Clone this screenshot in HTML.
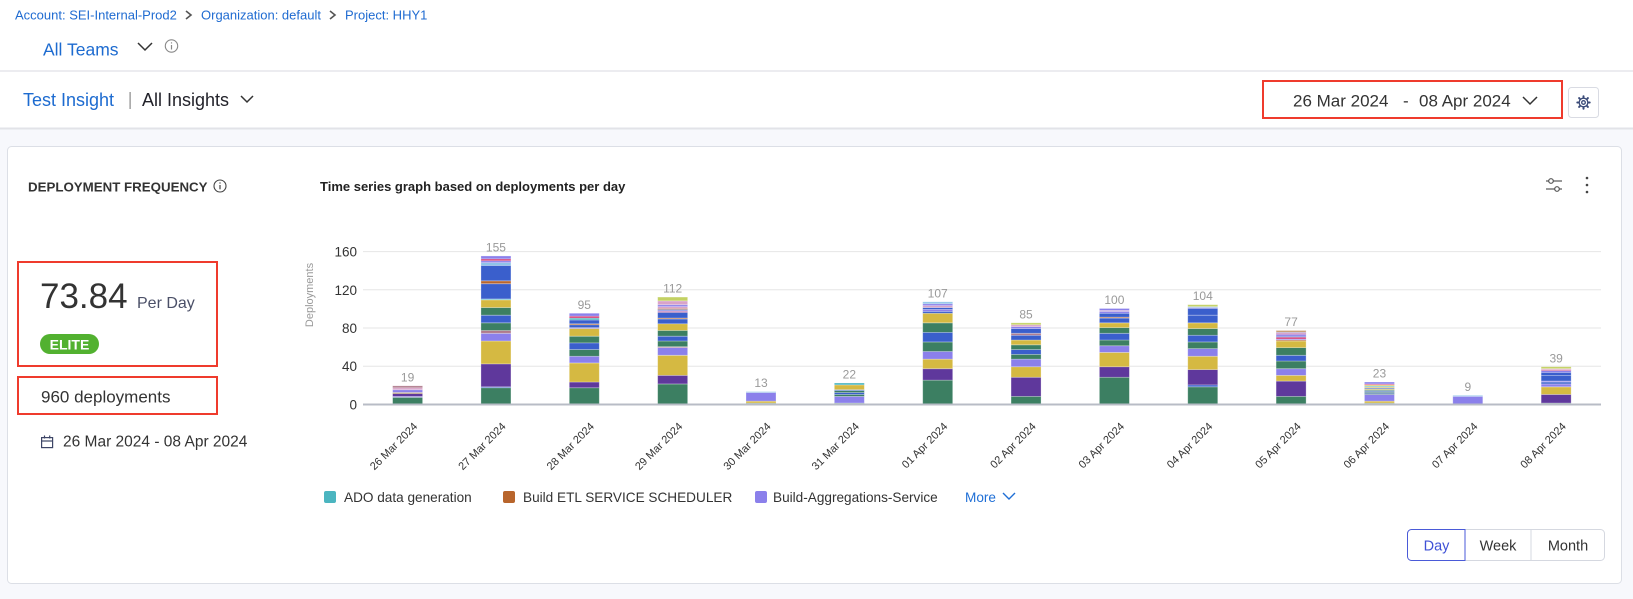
<!DOCTYPE html>
<html>
<head>
<meta charset="utf-8">
<style>
html,body{margin:0;padding:0;background:#fff;}
body{width:1633px;height:599px;overflow:hidden;font-family:"Liberation Sans",Arial,sans-serif;}
svg{display:block;}
.G{fill:#3c7f62}.P{fill:#5f389c}.Y{fill:#d5b942}.L{fill:#8b80eb}.B{fill:#3a5fcc}.O{fill:#b8652c}
.R{fill:#d43d77}.T{fill:#4bb5c0}.K{fill:#d9a3c9}.M{fill:#c3d163}.S{fill:#b07a8c}.W{fill:#8fc4e8}.N{fill:#c9a07a}
.bars rect{stroke:#ffffff;stroke-opacity:.35;stroke-width:.8;vector-effect:non-scaling-stroke;}
</style>
</head>
<body>
<svg width="1633" height="599" viewBox="0 0 1633 599" xmlns="http://www.w3.org/2000/svg" font-family="Liberation Sans, Arial, sans-serif">
  <!-- backgrounds -->
  <rect x="0" y="0" width="1633" height="599" fill="#f7f8fc"/>
  <rect x="0" y="0" width="1633" height="128" fill="#ffffff"/>
  <rect x="0" y="70.5" width="1633" height="1" fill="#d8d9e0"/>
  <rect x="0" y="127.5" width="1633" height="2" fill="#e2e3e8"/>

  <!-- breadcrumb -->
  <g font-size="13" fill="#1f6bd1">
    <text x="15" y="19.6">Account: SEI-Internal-Prod2</text>
    <text x="201" y="19.6">Organization: default</text>
    <text x="345" y="19.6">Project: HHY1</text>
  </g>
  <polyline points="186,11 191,15 186,19" fill="none" stroke="#555" stroke-width="1.6"/>
  <polyline points="330,11 335,15 330,19" fill="none" stroke="#555" stroke-width="1.6"/>

  <!-- All Teams -->
  <text x="43" y="55.3" font-size="17.5" fill="#1d6bd0">All Teams</text>
  <polyline points="138,43 145,50 152,43" fill="none" stroke="#333" stroke-width="1.5"/>
  <circle cx="171.5" cy="46" r="6.2" fill="none" stroke="#888" stroke-width="1.1"/>
  <rect x="170.9" y="45" width="1.2" height="4.5" fill="#888"/>
  <rect x="170.9" y="42.3" width="1.2" height="1.2" fill="#888"/>

  <!-- Test insight row -->
  <text x="23" y="106" font-size="18" fill="#1d6bd0">Test Insight</text>
  <rect x="129.5" y="92" width="1.2" height="17" fill="#888"/>
  <text x="142" y="106" font-size="18" fill="#22222a">All Insights</text>
  <polyline points="241,96 247,102 253,96" fill="none" stroke="#333" stroke-width="1.5"/>

  <!-- date range red box -->
  <rect x="1263" y="81" width="299" height="37" fill="#fff" stroke="#ef3b2d" stroke-width="2"/>
  <text x="1293" y="106.5" font-size="17" fill="#333">26 Mar 2024</text>
  <text x="1403" y="106.5" font-size="17" fill="#333">-</text>
  <text x="1419" y="106.5" font-size="17" fill="#333">08 Apr 2024</text>
  <polyline points="1523,97 1530,104 1537,97" fill="none" stroke="#333" stroke-width="1.5"/>

  <!-- gear button -->
  <rect x="1568.5" y="87.5" width="30" height="30" rx="3" fill="#fff" stroke="#d9dbe3"/>
  <g transform="translate(1583.5,102.5)" stroke="#3a4a78" fill="none" stroke-width="1.3">
    <circle r="4.3"/>
    <circle r="1.8"/>
    <g stroke-width="2" stroke-linecap="round">
      <line x1="0" y1="-5" x2="0" y2="-6.2"/>
      <line x1="0" y1="5" x2="0" y2="6.2"/>
      <line x1="-5" y1="0" x2="-6.2" y2="0"/>
      <line x1="5" y1="0" x2="6.2" y2="0"/>
      <line x1="3.6" y1="3.6" x2="4.4" y2="4.4"/>
      <line x1="-3.6" y1="3.6" x2="-4.4" y2="4.4"/>
      <line x1="3.6" y1="-3.6" x2="4.4" y2="-4.4"/>
      <line x1="-3.6" y1="-3.6" x2="-4.4" y2="-4.4"/>
    </g>
  </g>

  <!-- card -->
  <rect x="7.5" y="146.5" width="1614" height="437" rx="4" fill="#ffffff" stroke="#dcdfe6"/>

  <!-- left panel -->
  <text x="28" y="191.5" font-size="13.3" font-weight="bold" fill="#333">DEPLOYMENT FREQUENCY</text>
  <circle cx="220" cy="186" r="6" fill="none" stroke="#444" stroke-width="1.1"/>
  <rect x="219.4" y="185" width="1.2" height="4.3" fill="#444"/>
  <rect x="219.4" y="182.4" width="1.2" height="1.2" fill="#444"/>

  <rect x="18" y="262" width="199" height="104" fill="none" stroke="#ef3b2d" stroke-width="2"/>
  <text x="40" y="308" font-size="35" fill="#333">73.84</text>
  <text x="137" y="308" font-size="16" fill="#4b5068">Per Day</text>
  <rect x="40" y="334" width="59" height="20" rx="10" fill="#52b130"/>
  <text x="69.5" y="349.3" font-size="14" font-weight="bold" fill="#fff" text-anchor="middle">ELITE</text>

  <rect x="18" y="377" width="199" height="37" fill="none" stroke="#ef3b2d" stroke-width="2"/>
  <text x="41" y="402.5" font-size="17" fill="#333">960 deployments</text>

  <g fill="none" stroke="#3d4566" stroke-width="1.2">
    <rect x="41.6" y="437.6" width="11" height="10"/>
    <line x1="41.6" y1="441" x2="52.6" y2="441"/>
    <line x1="44.5" y1="435.5" x2="44.5" y2="438.5"/>
    <line x1="49.7" y1="435.5" x2="49.7" y2="438.5"/>
  </g>
  <text x="63" y="446.5" font-size="15.5" fill="#333">26 Mar 2024 - 08 Apr 2024</text>

  <!-- chart title -->
  <text x="320" y="191" font-size="13" font-weight="bold" fill="#222">Time series graph based on deployments per day</text>
  <!-- slider icon -->
  <g stroke="#555" stroke-width="1.2" fill="#fff">
    <line x1="1546" y1="181" x2="1562" y2="181"/>
    <line x1="1546" y1="189" x2="1562" y2="189"/>
    <circle cx="1551" cy="181" r="2.3"/>
    <circle cx="1557" cy="189" r="2.3"/>
  </g>
  <g fill="#444">
    <circle cx="1587" cy="178" r="1.3"/>
    <circle cx="1587" cy="185" r="1.3"/>
    <circle cx="1587" cy="192" r="1.3"/>
  </g>

  <!-- gridlines -->
  <g stroke="#e6e6e6" stroke-width="1">
    <line x1="363" y1="251.6" x2="1601" y2="251.6"/>
    <line x1="363" y1="289.8" x2="1601" y2="289.8"/>
    <line x1="363" y1="328" x2="1601" y2="328"/>
    <line x1="363" y1="366.2" x2="1601" y2="366.2"/>
  </g>

  <!-- y ticks -->
  <g font-size="13.5" fill="#333" text-anchor="end">
    <text x="357" y="256.6">160</text>
    <text x="357" y="294.8">120</text>
    <text x="357" y="333">80</text>
    <text x="357" y="371.2">40</text>
    <text x="357" y="409.4">0</text>
  </g>
  <text transform="translate(313,295) rotate(-90)" font-size="11" fill="#999" text-anchor="middle">Deployments</text>

  <!-- bars -->
  <g class="bars">
    <g transform="translate(392.6,404) scale(1,-0.955)">
      <rect class="G" width="30" y="0" height="7"/><rect class="L" width="30" y="7" height="1"/><rect class="P" width="30" y="8" height="3"/><rect class="Y" width="30" y="11" height="1"/><rect class="L" width="30" y="12" height="3"/><rect class="K" width="30" y="15" height="2"/><rect class="S" width="30" y="17" height="2"/>
    </g>
    <g transform="translate(480.95,404) scale(1,-0.955)">
      <rect class="G" width="30" y="0" height="17"/><rect class="B" width="30" y="17" height="1"/><rect class="P" width="30" y="18" height="24"/><rect class="Y" width="30" y="42" height="24"/><rect class="L" width="30" y="66" height="8"/><rect class="S" width="30" y="74" height="3"/><rect class="G" width="30" y="77" height="8"/><rect class="B" width="30" y="85" height="8"/><rect class="G" width="30" y="93" height="8"/><rect class="Y" width="30" y="101" height="8"/><rect class="T" width="30" y="109" height="1"/><rect class="B" width="30" y="110" height="16"/><rect class="O" width="30" y="126" height="3"/><rect class="B" width="30" y="129" height="16"/><rect class="W" width="30" y="145" height="3"/><rect class="L" width="30" y="148" height="2"/><rect class="R" width="30" y="150" height="2"/><rect class="L" width="30" y="152" height="3"/>
    </g>
    <g transform="translate(569.3,404) scale(1,-0.955)">
      <rect class="G" width="30" y="0" height="17"/><rect class="P" width="30" y="17" height="6"/><rect class="Y" width="30" y="23" height="20"/><rect class="L" width="30" y="43" height="7"/><rect class="G" width="30" y="50" height="7"/><rect class="B" width="30" y="57" height="7"/><rect class="G" width="30" y="64" height="7"/><rect class="Y" width="30" y="71" height="8"/><rect class="L" width="30" y="79" height="1"/><rect class="B" width="30" y="80" height="3"/><rect class="O" width="30" y="83" height="1"/><rect class="B" width="30" y="84" height="4"/><rect class="T" width="30" y="88" height="2"/><rect class="R" width="30" y="90" height="2"/><rect class="L" width="30" y="92" height="3"/>
    </g>
    <g transform="translate(657.65,404) scale(1,-0.955)">
      <rect class="G" width="30" y="0" height="21"/><rect class="P" width="30" y="21" height="9"/><rect class="Y" width="30" y="30" height="21"/><rect class="L" width="30" y="51" height="8"/><rect class="S" width="30" y="59" height="1"/><rect class="G" width="30" y="60" height="6"/><rect class="B" width="30" y="66" height="5"/><rect class="G" width="30" y="71" height="6"/><rect class="Y" width="30" y="77" height="7"/><rect class="B" width="30" y="84" height="5"/><rect class="O" width="30" y="89" height="1"/><rect class="B" width="30" y="90" height="6"/><rect class="R" width="30" y="96" height="1"/><rect class="L" width="30" y="97" height="1"/><rect class="B" width="30" y="98" height="1"/><rect class="O" width="30" y="99" height="1"/><rect class="K" width="30" y="100" height="2"/><rect class="L" width="30" y="102" height="2"/><rect class="K" width="30" y="104" height="4"/><rect class="M" width="30" y="108" height="4"/>
    </g>
    <g transform="translate(746,404) scale(1,-0.955)">
      <rect class="G" width="30" y="0" height="1"/><rect class="Y" width="30" y="1" height="2"/><rect class="L" width="30" y="3" height="9"/><rect class="W" width="30" y="12" height="1"/>
    </g>
    <g transform="translate(834.35,404) scale(1,-0.955)">
      <rect class="G" width="30" y="0" height="1"/><rect class="L" width="30" y="1" height="7"/><rect class="G" width="30" y="8" height="2"/><rect class="B" width="30" y="10" height="2"/><rect class="G" width="30" y="12" height="2"/><rect class="B" width="30" y="14" height="1"/><rect class="Y" width="30" y="15" height="5"/><rect class="T" width="30" y="20" height="2"/>
    </g>
    <g transform="translate(922.7,404) scale(1,-0.955)">
      <rect class="G" width="30" y="0" height="25"/><rect class="P" width="30" y="25" height="12"/><rect class="Y" width="30" y="37" height="10"/><rect class="L" width="30" y="47" height="8"/><rect class="G" width="30" y="55" height="10"/><rect class="B" width="30" y="65" height="10"/><rect class="G" width="30" y="75" height="10"/><rect class="Y" width="30" y="85" height="10"/><rect class="B" width="30" y="95" height="2"/><rect class="L" width="30" y="97" height="2"/><rect class="B" width="30" y="99" height="2"/><rect class="K" width="30" y="101" height="2"/><rect class="L" width="30" y="103" height="2"/><rect class="W" width="30" y="105" height="2"/>
    </g>
    <g transform="translate(1011.05,404) scale(1,-0.955)">
      <rect class="G" width="30" y="0" height="8"/><rect class="P" width="30" y="8" height="20"/><rect class="Y" width="30" y="28" height="11"/><rect class="L" width="30" y="39" height="8"/><rect class="G" width="30" y="47" height="5"/><rect class="B" width="30" y="52" height="5"/><rect class="G" width="30" y="57" height="5"/><rect class="Y" width="30" y="62" height="5"/><rect class="B" width="30" y="67" height="5"/><rect class="S" width="30" y="72" height="2"/><rect class="B" width="30" y="74" height="5"/><rect class="L" width="30" y="79" height="2"/><rect class="K" width="30" y="81" height="2"/><rect class="M" width="30" y="83" height="2"/>
    </g>
    <g transform="translate(1099.4,404) scale(1,-0.955)">
      <rect class="G" width="30" y="0" height="28"/><rect class="P" width="30" y="28" height="11"/><rect class="Y" width="30" y="39" height="15"/><rect class="L" width="30" y="54" height="7"/><rect class="G" width="30" y="61" height="6"/><rect class="B" width="30" y="67" height="7"/><rect class="G" width="30" y="74" height="6"/><rect class="Y" width="30" y="80" height="5"/><rect class="B" width="30" y="85" height="5"/><rect class="O" width="30" y="90" height="1"/><rect class="B" width="30" y="91" height="4"/><rect class="L" width="30" y="95" height="2"/><rect class="K" width="30" y="97" height="1"/><rect class="L" width="30" y="98" height="2"/>
    </g>
    <g transform="translate(1187.75,404) scale(1,-0.955)">
      <rect class="G" width="30" y="0" height="18"/><rect class="B" width="30" y="18" height="2"/><rect class="P" width="30" y="20" height="16"/><rect class="Y" width="30" y="36" height="14"/><rect class="L" width="30" y="50" height="8"/><rect class="G" width="30" y="58" height="7"/><rect class="B" width="30" y="65" height="7"/><rect class="G" width="30" y="72" height="7"/><rect class="Y" width="30" y="79" height="6"/><rect class="B" width="30" y="85" height="8"/><rect class="B" width="30" y="93" height="7"/><rect class="L" width="30" y="100" height="1"/><rect class="W" width="30" y="101" height="1"/><rect class="M" width="30" y="102" height="2"/>
    </g>
    <g transform="translate(1276.1,404) scale(1,-0.955)">
      <rect class="G" width="30" y="0" height="8"/><rect class="P" width="30" y="8" height="16"/><rect class="Y" width="30" y="24" height="6"/><rect class="L" width="30" y="30" height="7"/><rect class="G" width="30" y="37" height="8"/><rect class="B" width="30" y="45" height="6"/><rect class="G" width="30" y="51" height="8"/><rect class="Y" width="30" y="59" height="7"/><rect class="O" width="30" y="66" height="1"/><rect class="L" width="30" y="67" height="1"/><rect class="R" width="30" y="68" height="2"/><rect class="B" width="30" y="70" height="1"/><rect class="L" width="30" y="71" height="2"/><rect class="R" width="30" y="73" height="1"/><rect class="L" width="30" y="74" height="1"/><rect class="N" width="30" y="75" height="2"/>
    </g>
    <g transform="translate(1364.45,404) scale(1,-0.955)">
      <rect class="G" width="30" y="0" height="1"/><rect class="Y" width="30" y="1" height="2"/><rect class="L" width="30" y="3" height="7"/><rect class="G" width="30" y="10" height="1"/><rect class="B" width="30" y="11" height="1"/><rect class="G" width="30" y="12" height="1"/><rect class="B" width="30" y="13" height="1"/><rect class="G" width="30" y="14" height="1"/><rect class="Y" width="30" y="15" height="1"/><rect class="B" width="30" y="16" height="1"/><rect class="Y" width="30" y="17" height="1"/><rect class="T" width="30" y="18" height="1"/><rect class="Y" width="30" y="19" height="1"/><rect class="R" width="30" y="20" height="1"/><rect class="L" width="30" y="21" height="2"/>
    </g>
    <g transform="translate(1452.8,404) scale(1,-0.955)">
      <rect class="L" width="30" y="0" height="8"/><rect class="W" width="30" y="8" height="1"/>
    </g>
    <g transform="translate(1541.15,404) scale(1,-0.955)">
      <rect class="G" width="30" y="0" height="1"/><rect class="P" width="30" y="1" height="9"/><rect class="Y" width="30" y="10" height="8"/><rect class="L" width="30" y="18" height="3"/><rect class="B" width="30" y="21" height="2"/><rect class="L" width="30" y="23" height="1"/><rect class="B" width="30" y="24" height="6"/><rect class="B" width="30" y="30" height="3"/><rect class="L" width="30" y="33" height="2"/><rect class="R" width="30" y="35" height="1"/><rect class="K" width="30" y="36" height="1"/><rect class="M" width="30" y="37" height="2"/>
    </g>
  </g>

  <!-- baseline -->
  <line x1="363" y1="404.5" x2="1601" y2="404.5" stroke="#b8bcc6" stroke-width="2"/>

  <!-- value labels -->
  <g font-size="12" fill="#999" text-anchor="middle">
    <text x="407.6" y="381.4">19</text>
    <text x="495.95" y="251.5">155</text>
    <text x="584.3" y="308.8">95</text>
    <text x="672.65" y="292.5">112</text>
    <text x="761" y="387.1">13</text>
    <text x="849.35" y="378.5">22</text>
    <text x="937.7" y="297.3">107</text>
    <text x="1026.05" y="318.3">85</text>
    <text x="1114.4" y="304">100</text>
    <text x="1202.75" y="300.2">104</text>
    <text x="1291.1" y="326">77</text>
    <text x="1379.45" y="377.5">23</text>
    <text x="1467.8" y="390.9">9</text>
    <text x="1556.15" y="362.3">39</text>
  </g>

  <!-- x labels -->
  <g font-size="11" fill="#333" text-anchor="end">
    <text transform="translate(418.1,427) rotate(-45)">26 Mar 2024</text>
    <text transform="translate(506.45,427) rotate(-45)">27 Mar 2024</text>
    <text transform="translate(594.8,427) rotate(-45)">28 Mar 2024</text>
    <text transform="translate(683.15,427) rotate(-45)">29 Mar 2024</text>
    <text transform="translate(771.5,427) rotate(-45)">30 Mar 2024</text>
    <text transform="translate(859.85,427) rotate(-45)">31 Mar 2024</text>
    <text transform="translate(948.2,427) rotate(-45)">01 Apr 2024</text>
    <text transform="translate(1036.55,427) rotate(-45)">02 Apr 2024</text>
    <text transform="translate(1124.9,427) rotate(-45)">03 Apr 2024</text>
    <text transform="translate(1213.25,427) rotate(-45)">04 Apr 2024</text>
    <text transform="translate(1301.6,427) rotate(-45)">05 Apr 2024</text>
    <text transform="translate(1389.95,427) rotate(-45)">06 Apr 2024</text>
    <text transform="translate(1478.3,427) rotate(-45)">07 Apr 2024</text>
    <text transform="translate(1566.65,427) rotate(-45)">08 Apr 2024</text>
  </g>

  <!-- legend -->
  <rect x="324" y="491" width="12" height="12" rx="2" fill="#4bb5c0"/>
  <rect x="503" y="491" width="12" height="12" rx="2" fill="#b8652c"/>
  <rect x="755" y="491" width="12" height="12" rx="2" fill="#8b80eb"/>
  <g font-size="13.6" fill="#333">
    <text x="344" y="502">ADO data generation</text>
    <text x="523" y="502">Build ETL SERVICE SCHEDULER</text>
    <text x="773" y="502">Build-Aggregations-Service</text>
  </g>
  <text x="965" y="502" font-size="13.6" fill="#1f6fd6">More</text>
  <polyline points="1003,493 1009,499 1015,493" fill="none" stroke="#1f6fd6" stroke-width="1.4"/>

  <!-- Day/Week/Month -->
  <rect x="1407.5" y="529.5" width="197" height="31" rx="4" fill="#fff" stroke="#d5d8e0"/>
  <line x1="1531" y1="530" x2="1531" y2="560" stroke="#d5d8e0"/>
  <path d="M1465,529.5 H1411.5 A4,4 0 0 0 1407.5,533.5 V556.5 A4,4 0 0 0 1411.5,560.5 H1465 Z" fill="#fff" stroke="#4a5ad8"/>
  <g font-size="14.5" text-anchor="middle">
    <text x="1436.5" y="550.5" fill="#3f51d6">Day</text>
    <text x="1498" y="550.5" fill="#333">Week</text>
    <text x="1568" y="550.5" fill="#333">Month</text>
  </g>
</svg>
</body>
</html>
